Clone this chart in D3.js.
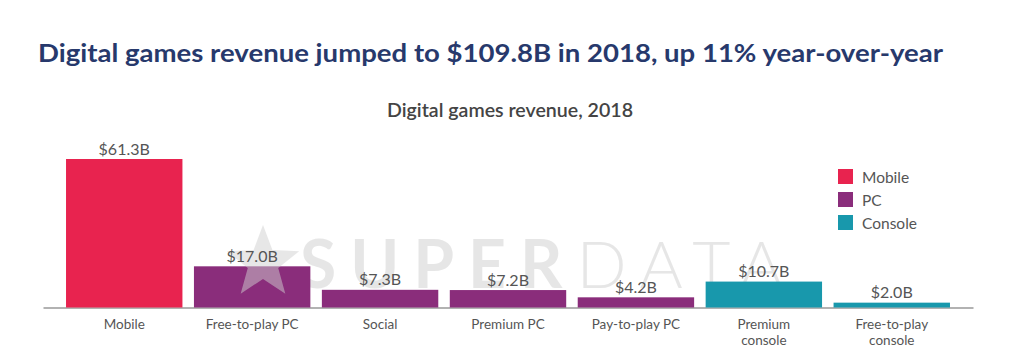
<!DOCTYPE html>
<html>
<head>
<meta charset="utf-8">
<script src="https://cdn.jsdelivr.net/npm/d3@7"></script>
<style>
  body { margin: 0; background: #fff; }
  svg { display: block; font-family: Lato, "Open Sans", sans-serif; }
</style>
</head>
<body>
<div id="chart"></div>
<script>
const width = 1024;
const height = 354;

// data
const categories = ["Mobile", "Free-to-play PC", "Social", "Premium PC", "Pay-to-play PC", "Premium console", "Free-to-play console"];
const labelLines = [["Mobile"], ["Free-to-play PC"], ["Social"], ["Premium PC"], ["Pay-to-play PC"], ["Premium", "console"], ["Free-to-play", "console"]];
const values = [61.3, 17.0, 7.3, 7.2, 4.2, 10.7, 2.0];
const platform = ["Mobile", "PC", "PC", "PC", "PC", "Console", "Console"];
const legendKeys = ["Mobile", "PC", "Console"];
const legendColors = ["#e8234f", "#8a2d7b", "#1898ac"];

const color = d3.scaleOrdinal().domain(legendKeys).range(legendColors);

const svg = d3.select("#chart")
  .append("svg")
  .attr("width", width)
  .attr("height", height);

// title (reference is slightly stretched horizontally)
svg.append("text")
  .attr("x", 38)
  .attr("y", 62)
  .attr("font-size", "25.5px")
  .attr("font-weight", "bold")
  .attr("fill", "#27396c")
  .attr("textLength", 905)
  .attr("lengthAdjust", "spacingAndGlyphs")
  .text("Digital games revenue jumped to $109.8B in 2018, up 11% year-over-year");

svg.append("text")
  .attr("x", 387)
  .attr("y", 117)
  .attr("font-size", "19px")
  .attr("font-weight", 600)
  .attr("fill", "#444")
  .attr("textLength", 246)
  .attr("lengthAdjust", "spacingAndGlyphs")
  .text("Digital games revenue, 2018");

const x = d3.scaleBand()
  .domain(categories)
  .range([43, 973])
  .paddingInner(0.09)
  .paddingOuter(0.18);

const y = d3.scaleLinear()
  .domain([0, d3.max(values)])
  .range([307.5, 159]);

// axis
const axis = svg.append("g")
  .attr("transform", `translate(0,${y(0)})`)
  .call(d3.axisBottom(x).tickSize(0).tickPadding(0));
axis.select(".domain").attr("stroke", "#999").attr("stroke-width", 1.5);
axis.selectAll(".tick text").remove();
axis.selectAll(".tick").each(function(d, i) {
  const t = d3.select(this).append("text")
    .attr("fill", "#555")
    .attr("font-size", "13.5px")
    .attr("font-family", "Lato, sans-serif")
    .attr("text-anchor", "middle");
  labelLines[i].forEach((line, j) => {
    t.append("tspan").attr("x", 0).attr("y", 21.5 + j * 16).text(line);
  });
});

// watermark, drawn under the value labels
const wm = svg.append("g").attr("fill", "#cfcfcf").attr("opacity", 0.5);

// bars
svg.append("g")
  .selectAll("rect")
  .data(values)
  .join("rect")
  .attr("x", (d, i) => x(categories[i]))
  .attr("y", d => y(d))
  .attr("width", x.bandwidth())
  .attr("height", d => y(0) - y(d))
  .attr("fill", (d, i) => color(platform[i]));

const star = d3.range(10).map(i => {
  const r = i % 2 === 0 ? 38 : 16;
  const a = -Math.PI / 2 + i * Math.PI / 5;
  return [263 + r * Math.cos(a), 263 + r * Math.sin(a)];
});
svg.append("path")
  .attr("d", d3.line()(star) + "Z")
  .attr("fill", "#cfcfcf")
  .attr("opacity", 0.5);

const wt = wm.append("text")
  .attr("x", 300)
  .attr("y", 288)
  .attr("font-size", "66px")
  .attr("letter-spacing", "14px");
wt.append("tspan").attr("font-weight", "bold").text("SUPER");
wt.append("tspan").attr("font-weight", 300).text("DATA");

// value labels
svg.append("g")
  .selectAll("text")
  .data(values)
  .join("text")
  .attr("x", (d, i) => x(categories[i]) + x.bandwidth() / 2)
  .attr("y", d => y(d) - 4.5)
  .attr("text-anchor", "middle")
  .attr("font-size", "16px")
  .attr("fill", "#555")
  .text(d => `$${d.toFixed(1)}B`);

// legend
const legend = svg.append("g").attr("transform", "translate(838,169)");
legendKeys.forEach((k, i) => {
  legend.append("rect")
    .attr("x", 0).attr("y", i * 23)
    .attr("width", 15).attr("height", 15)
    .attr("fill", color(k));
  legend.append("text")
    .attr("x", 24).attr("y", i * 23 + 13.5)
    .attr("font-size", "15.5px")
    .attr("fill", "#555")
    .text(k);
});
</script>
</body>
</html>
